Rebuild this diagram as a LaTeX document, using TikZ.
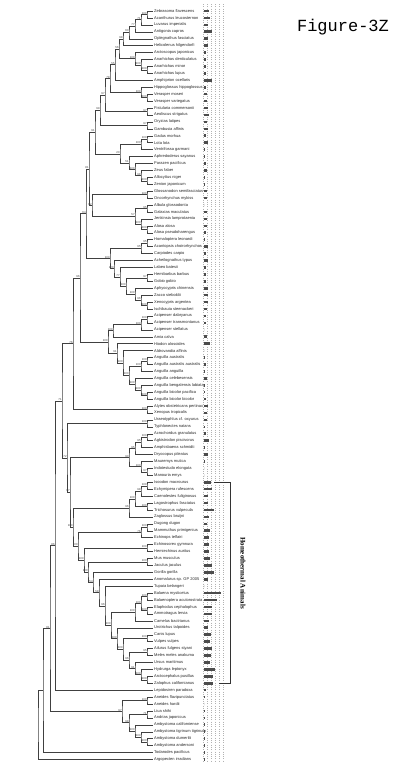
\documentclass[tikz,border=0pt]{standalone}
\usepackage{fontspec}
\setmainfont{Liberation Sans}
\newfontfamily\serifbold{Liberation Serif}
\newfontfamily\monotitle{Liberation Mono}
\usetikzlibrary{calc}

\tikzset{
  branch/.style={draw=black!75,line width=0.4pt},
  leaf/.style={anchor=west,inner xsep=1pt,inner ysep=0pt,font=\fontsize{4}{4}\selectfont,text=black!85},
  boot/.style={anchor=south east,inner sep=0.2pt,font=\fontsize{2.8}{3}\selectfont,text=black!80},
  bar/.style={fill=black!70},
  gridline/.style={draw=black!30,line width=0.3pt,dotted},
  bracket/.style={draw=black!80,line width=0.5pt},
  grouptxt/.style={rotate=-90,font=\serifbold\bfseries\fontsize{7}{7}\selectfont},
  figtitle/.style={font=\monotitle\fontsize{17}{17}\selectfont}
}

% clade{name}{child}{child}{x}{support}
\newcommand\clade[5]{%
  \path let \p1=(#2), \p2=(#3) in coordinate (#1) at (#4,{(\y1+\y2)/2});
  \draw[branch] (#2) -| (#1) |- (#3);
  \node[boot] at (#1) {#5};
}

\begin{document}
\begin{tikzpicture}[x=1pt,y=-1pt]
\useasboundingbox (0,0) rectangle (395,763);

% grid behind the bars
\foreach \gx in {203,207,...,223}
  \draw[gridline] (\gx,4) -- (\gx,762);

% leaves
\foreach \nm/\txt [count=\i] in {
 zfla/Zebrasoma flavescens, aleu/Acanthurus leucosternon, limp/Luvarus imperialis,
 acap/Antigonia capros, ofas/Oplegnathus fasciatus, hhil/Helicolenus hilgendorfi,
 ajap/Arctoscopus japonicus, aden/Anarhichas denticulatus, amin/Anarhichas minor,
 alup/Anarhichas lupus, aoce/Amphiprion ocellaris, hhip/Hippoglossus hippoglossus,
 vmos/Verasper moseri, vvar/Verasper variegatus, fcom/Fistularia commersonii,
 astr/Aeoliscus strigatus, olat/Oryzias latipes, gaff/Gambusia affinis,
 gmor/Gadus morhua, llot/Lota lota, vgar/Ventrifossa garmani,
 asay/Aphredoderus sayanus, ppac/Parazen pacificus, zfab/Zeus faber,
 anig/Allocyttus niger, zjap/Zenion japonicum, gsem/Glossanodon semifasciatus,
 omyk/Oncorhynchus mykiss, aglo/Albula glossodonta, gmac/Galaxias maculatus,
 jlam/Jenkinsia lamprotaenia, aalo/Alosa alosa, apse/Alosa pseudoharengus,
 hleo/Homaloptera leonardi, acho/Acantopsis choirorhynchos, ccar/Carpiodes carpio,
 atyp/Acheilognathus typus, lbat/Labeo batesii, hbar/Hemibarbus barbus,
 ggob/Gobio gobio, achi/Aphyocypris chinensis, zsie/Zacco sieboldii,
 xarg/Xenocypris argentea, iste/Ischikauia steenackeri, adab/Acipenser dabryanus,
 atra/Acipenser transmontanus, aste/Acipenser stellatus, acal/Amia calva,
 halo/Hiodon alosoides, aaff/Aldrovandia affinis, aaus/Anguilla australis,
 aaua/Anguilla australis australis, aang/Anguilla anguilla, acel/Anguilla celebesensis,
 aben/Anguilla bengalensis labiata, abip/Anguilla bicolor pacifica, abib/Anguilla bicolor bicolor,
 aobs/Alytes obstetricans pertinax, xtro/Xenopus tropicalis, uoxy/Uraeotyphlus cf. oxyurus,
 tnat/Typhlonectes natans, agra/Acrochordus granulatus, apis/Agkistrodon piscivorus,
 asch/Amphisbaena schmidti, dpil/Dryocopus pileatus, mmut/Mauremys mutica,
 ielo/Indotestudo elongata, memy/Manouria emys, imac/Isoodon macrourus,
 eruf/Echymipera rufescens, cful/Caenolestes fuliginosus, lfas/Lagostrophus fasciatus,
 tvul/Trichosurus vulpecula, zbru/Zaglossus bruijni, ddug/Dugong dugon,
 mpri/Mammuthus primigenius, etel/Echinops telfairi, egym/Echinosorex gymnura,
 haur/Hemiechinus auritus, mmus/Mus musculus, jjac/Jaculus jaculus,
 ggor/Gorilla gorilla, anom/Anomalurus sp. GP 2005, tbel/Tupaia belangeri,
 bmys/Balaena mysticetus, bacu/Balaenoptera acutorostrata, ecep/Elaphodus cephalophus,
 aler/Ammotragus lervia, cbac/Camelus bactrianus, utal/Urotrichus talpoides,
 clup/Canis lupus, vvul/Vulpes vulpes, afst/Ailurus fulgens styani,
 mman/Meles meles anakuma, umar/Ursus maritimus, hlep/Hydrurga leptonyx,
 apus/Arctocephalus pusillus, zcal/Zalophus californianus, lpar/Lepidosiren paradoxa,
 afla/Aneides flavipunctatus, ahar/Aneides hardii, lshi/Liua shihi,
 ajpn/Andrias japonicus, acfn/Ambystoma californiense, atig/Ambystoma tigrinum tigrinum,
 adum/Ambystoma dumerilii, aand/Ambystoma andersoni, tpac/Todarodes pacificus,
 airr/Argopecten irradians}
  \node[leaf] (\nm) at (153,{11+(\i-1)*6.93}) {\txt};

% bars
\foreach \len [count=\i] in {4.5,5.5,4,8,4,4,2,1.5,1.5,1.5,7.5,2,2.5,2.5,4,5,3,4,2,4,
 1,1,1.5,3,1,1,3,3,0,2.5,2.5,2.5,2,1,4,2,4,1.5,1.5,2,4,3.5,4,3,2,1.5,0,3,6,0,
 1,2,1,2.5,1,1,2,4,3,3,0.6,2,5,0.6,4,1,0,0,7,8,4,4,10,5,3,6,5,5,5,6,8,10,4,0,
 17,13,8,8,5,4,7,6,8,7,6,11,9,9,2,0.6,0,0.6,0.6,0.6,0.6,0.6,0.6,0.6,0.6}
  \fill[bar] (204,{11+(\i-1)*6.93-1.3}) rectangle ++(\len,2.6);

% ray-finned fishes
\clade{a1}{zfla}{aleu}{147}{100}
\clade{a2}{a1}{limp}{141}{71}
\clade{a3}{a2}{acap}{135}{77}
\clade{a4}{a3}{ofas}{129}{60}
\clade{a5}{a4}{hhil}{123}{98}
\clade{b1}{amin}{alup}{147}{100}
\clade{b2}{aden}{b1}{141}{100}
\clade{b3}{ajap}{b2}{135}{100}
\clade{c1}{a5}{b3}{119}{56}
\clade{c2}{c1}{aoce}{115}{55}
\clade{d1}{vmos}{vvar}{147}{100}
\clade{d2}{hhip}{d1}{141}{100}
\clade{c3}{c2}{d2}{110}{78}
\clade{e1}{fcom}{astr}{147}{97}
\clade{c4}{c3}{e1}{105}{97}
\clade{f1}{olat}{gaff}{147}{97}
\clade{c5}{c4}{f1}{100}{99}
\clade{g1}{gmor}{llot}{147}{100}
\clade{g2}{g1}{vgar}{141}{100}
\clade{h1}{anig}{zjap}{147}{100}
\clade{h2}{zfab}{h1}{141}{98}
\clade{h3}{ppac}{h2}{135}{100}
\clade{h4}{asay}{h3}{129}{51}
\clade{g3}{g2}{h4}{120}{20}
\clade{p1}{c5}{g3}{95}{91}
\clade{i1}{gsem}{omyk}{147}{100}
\clade{j1}{aglo}{gmac}{147}{95}
\clade{k1}{aalo}{apse}{147}{100}
\clade{k2}{jlam}{k1}{141}{100}
\clade{j2}{j1}{k2}{135}{57}
\clade{i2}{i1}{j2}{92}{62}
\clade{m1}{p1}{i2}{89}{81}
\clade{r1}{hleo}{acho}{147}{95}
\clade{r2}{r1}{ccar}{141}{95}
\clade{q1}{hbar}{ggob}{147}{97}
\clade{q2}{xarg}{iste}{147}{100}
\clade{q3}{zsie}{q2}{141}{96}
\clade{q4}{achi}{q3}{135}{100}
\clade{q5}{q1}{q4}{126}{100}
\clade{q6}{lbat}{q5}{120}{77}
\clade{q7}{atyp}{q6}{114}{100}
\clade{q8}{r2}{q7}{110}{100}
\clade{w1}{m1}{q8}{86}{64}
\clade{s1}{adab}{atra}{147}{100}
\clade{s2}{s1}{aste}{141}{100}
\clade{s3}{s2}{acal}{113}{100}
\clade{u1}{aaus}{aaua}{147}{100}
\clade{u2}{u1}{aang}{141}{100}
\clade{u4}{abip}{abib}{147}{100}
\clade{u5}{aben}{u4}{141}{100}
\clade{u6}{acel}{u5}{135}{100}
\clade{u7}{u2}{u6}{129}{100}
\clade{v1}{aaff}{u7}{123}{100}
\clade{v2}{halo}{v1}{117}{91}
\clade{v3}{s3}{v2}{108}{100}
\clade{w2}{w1}{v3}{80}{96}
% frogs, caecilians, reptiles
\clade{x1}{aobs}{xtro}{147}{100}
\clade{w3}{w2}{x1}{73}{76}
\clade{x2}{uoxy}{tnat}{147}{100}
\clade{y1}{agra}{apis}{147}{100}
\clade{y2}{y1}{asch}{141}{95}
\clade{y3}{y2}{dpil}{135}{95}
\clade{y4}{ielo}{memy}{147}{97}
\clade{y5}{mmut}{y4}{141}{100}
\clade{y6}{y3}{y5}{129}{90}
% mammals
\clade{mm1}{imac}{eruf}{147}{100}
\clade{mm2}{mm1}{cful}{141}{98}
\clade{mm3}{lfas}{tvul}{147}{100}
\clade{mm4}{mm2}{mm3}{135}{100}
\clade{mm5}{mm4}{zbru}{129}{96}
\clade{mm6}{ddug}{mpri}{147}{100}
\clade{mm7}{mm6}{etel}{141}{76}
\clade{mm8}{egym}{haur}{147}{100}
\clade{mm9}{mmus}{jjac}{147}{100}
\clade{n1}{bmys}{bacu}{147}{100}
\clade{n2}{ecep}{aler}{147}{100}
\clade{n3}{n1}{n2}{141}{100}
\clade{n4}{n3}{cbac}{135}{100}
\clade{n5}{clup}{vvul}{147}{100}
\clade{n6}{afst}{mman}{147}{95}
\clade{n7}{apus}{zcal}{147}{100}
\clade{n8}{hlep}{n7}{141}{100}
\clade{n9}{umar}{n8}{135}{91}
\clade{n10}{n6}{n9}{129}{96}
\clade{n11}{n5}{n10}{123}{100}
\clade{n12}{utal}{n11}{117}{100}
\clade{n13}{n4}{n12}{111}{100}
\clade{n14}{tbel}{n13}{105}{96}
\clade{n15}{anom}{n14}{99}{58}
\clade{n16}{ggor}{n15}{93}{54}
\clade{n17}{mm9}{n16}{88}{100}
\clade{n18}{mm8}{n17}{84}{100}
\clade{eu}{mm7}{n18}{78}{100}
\clade{mam}{mm5}{eu}{73}{100}
\clade{amn}{y6}{mam}{70}{97}
\clade{tet}{x2}{amn}{67}{72}
\clade{vt4}{w3}{tet}{62}{71}
\clade{vt3}{vt4}{lpar}{55}{86}
% salamanders
\clade{sa1}{afla}{ahar}{147}{100}
\clade{sa2}{lshi}{ajpn}{147}{71}
\clade{sa3}{adum}{aand}{147}{100}
\clade{sa4}{atig}{sa3}{141}{100}
\clade{sa5}{acfn}{sa4}{135}{100}
\clade{sa6}{sa2}{sa5}{129}{98}
\clade{sal}{sa1}{sa6}{122}{97}
\clade{vt2}{vt3}{sal}{50}{81}
\clade{vt1}{vt2}{tpac}{43}{}
\clade{root}{vt1}{airr}{38}{}

% homeothermal bracket
\coordinate (brT) at (214,482.2);
\coordinate (brB) at (219,682.9);
\draw[bracket] (brT) -- ++(16,0) |- (brB);
\node[grouptxt] (homeo) at (243,573) {Homeothermal Animals};

\node[figtitle] (fig) at (343,27) {Figure-3Z};
\end{tikzpicture}
\end{document}
